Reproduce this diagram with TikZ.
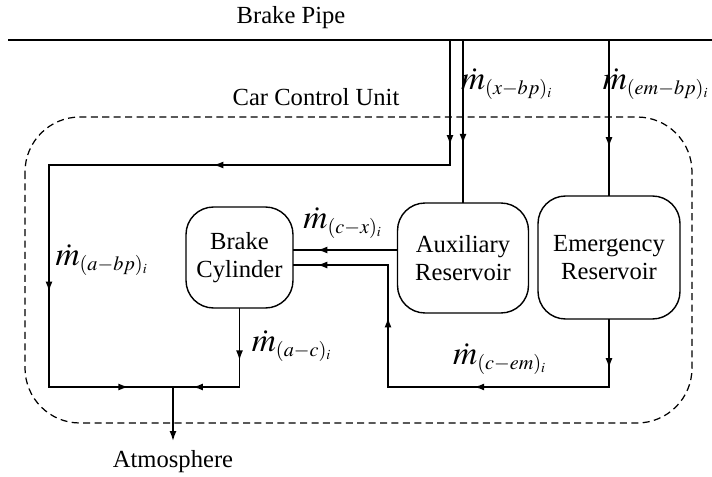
\documentclass[tikz,border=0pt]{standalone}
\usepackage{mathptmx}
\usepackage{fontspec}
\setmainfont{Liberation Serif}
\DeclareMathSizes{19}{19}{11.5}{8}
\usetikzlibrary{arrows.meta, positioning, calc, decorations.markings}

\begin{document}
\begin{tikzpicture}[x=0.02cm, y=-0.02cm,
  unit/.style={draw, rounded corners=0.55cm, line width=0.8pt, align=center, font=\fontsize{14}{16}\selectfont, inner sep=2pt},
  pipe/.style={line width=0.85pt, line cap=rect},
  flow/.style={pipe, postaction={decorate}, decoration={markings, mark=at position #1 with {\arrow{Latex[length=2mm, width=1.4mm]}}}},
  flow/.default=0.5,
  rate/.style={font=\fontsize{19}{21}\selectfont, inner sep=0pt},
  lbl/.style={font=\fontsize{14}{16}\selectfont}
]
\useasboundingbox (0,0) rectangle (712,476);

% --- Brake pipe ---
\coordinate (bpL) at (8,40);
\coordinate (bpR) at (712,40);
\draw[line width=0.9pt] (bpL) -- (bpR);
\node[lbl] (bptext) at (291,18) {Brake Pipe};

% --- Car control unit ---
\draw[dashed, dash pattern=on 4pt off 2.5pt, line width=0.7pt, rounded corners=1.1cm] (25,117) rectangle (692,423);
\node[lbl] (ccu) at (316,97) {Car Control Unit};

% --- Units ---
\node[unit, minimum width=2.14cm, minimum height=2.02cm] (bc)  at (239.5,257.5) {Brake\\Cylinder};
\node[unit, minimum width=2.62cm, minimum height=2.2cm]  (aux) at (463,258) {Auxiliary\\Reservoir};
\node[unit, minimum width=2.84cm, minimum height=2.46cm] (em)  at (609,257.5) {Emergency\\Reservoir};

% --- Junction points ---
\coordinate (t1) at (450,40);
\coordinate (t2) at (463,40);
\coordinate (t3) at (609,40);
\coordinate (c1) at (450,165);
\coordinate (c2) at (49,165);
\coordinate (c3) at (49,387);
\coordinate (jn) at (173,387);
\coordinate (atm) at (173,441);
\coordinate (b1) at (bc.south |- c3);
\coordinate (ax) at (397,250);
\coordinate (e1) at (em.south |- c3);
\coordinate (r1) at (388,387);
\coordinate (r2) at (388,265);

% --- Brake pipe feeds ---
\draw[flow=0.84] (t1) -- (c1);
\draw[flow=0.59] (c1) -- (c2);
\draw[flow=0.57] (c2) -- (c3);
\draw[flow=0.64] (c3) -- (jn);
\draw[flow=0.64] (t2) -- (t2 |- aux.north);
\draw[flow=0.69] (t3) -- (t3 |- em.north);

% --- Brake cylinder supply and exhaust ---
\draw[flow=0.77] (ax) -- (bc.east |- ax);
\draw[flow=0.66] (bc.south) -- (b1);
\draw[flow=0.70] (b1) -- (jn);
\draw[pipe, -{Latex[length=2mm, width=1.4mm]}] (jn) -- (atm);

% --- Emergency path ---
\draw[flow=0.72] (em.south) -- (e1);
\draw[flow=0.61] (e1) -- (r1);
\draw[flow=0.57] (r1) -- (r2);
\draw[flow=0.75] (r2) -- (bc.east |- r2);

% --- Flow labels ---
\node[rate] (mxbp)  at (507,84)  {$\dot m_{(x-bp)_i}$};
\node[rate] (membp) at (656,84)  {$\dot m_{(em-bp)_i}$};
\node[rate] (mabp)  at (102,260) {$\dot m_{(a-bp)_i}$};
\node[rate] (mcx)   at (343,223) {$\dot m_{(c-x)_i}$};
\node[rate] (mac)   at (292,346) {$\dot m_{(a-c)_i}$};
\node[rate] (mcem)  at (500,359) {$\dot m_{(c-em)_i}$};
\node[lbl] (atmtext) at (173,462) {Atmosphere};

\end{tikzpicture}
\end{document}
